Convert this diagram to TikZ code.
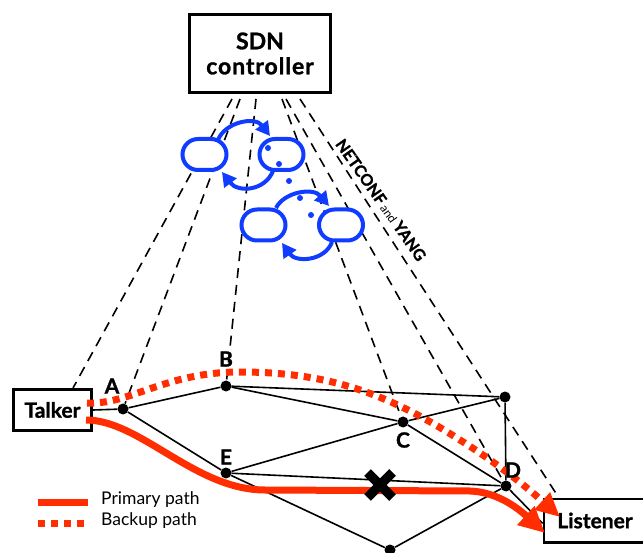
\documentclass[tikz,border=0pt]{standalone}
\usepackage{fontspec}
\setmainfont{Lato}[BoldFeatures={FakeBold=1.2}]
\usetikzlibrary{arrows.meta}
\definecolor{pathred}{RGB}{255,45,0}
\definecolor{iconblue}{RGB}{15,60,255}

\begin{document}
\begin{tikzpicture}[x=1pt,y=-1pt,
  box/.style={draw,line width=2.6pt,inner sep=0pt},
  sw/.style={circle,fill,inner sep=0pt,minimum size=11pt},
  lbl/.style={font=\bfseries\fontsize{21}{21}\selectfont,inner sep=0pt},
  link/.style={line width=1.6pt},
  ctrl/.style={line width=1.6pt,dash pattern=on 10pt off 7pt},
  primary/.style={pathred,line width=7pt},
  backup/.style={pathred,line width=7pt,dash pattern=on 7pt off 6pt},
  pill/.style={draw=iconblue,fill=white,line width=4pt,rounded corners=15.5pt,
    minimum width=44pt,minimum height=31pt,inner sep=0pt},
  flow/.style={iconblue,line width=4pt,-{Triangle[length=14pt,width=15pt]}},
  fdot/.style={circle,fill=iconblue,inner sep=0pt,minimum size=6pt},
  legendtext/.style={anchor=west,inner sep=0pt,font=\fontsize{17.5}{17.5}\selectfont}
]
\useasboundingbox (0,0) rectangle (643,553);

% boxes
\node[box,minimum width=141.5pt,minimum height=78.5pt,align=center,
  font=\bfseries\fontsize{23}{25}\selectfont] (sdn) at (260,53.5)
  {SDN\\\addfontfeature{LetterSpace=4}controller};
\node[box,minimum width=78.4pt,minimum height=41.4pt,
  font=\bfseries\fontsize{21}{21}\selectfont] (talker) at (52.5,410) {Talker};
\node[box,minimum width=102pt,minimum height=43.4pt,
  font=\bfseries\fontsize{21}{21}\selectfont] (listener) at (595,520.5) {Listener};

% switches
\node[sw] (A) at (123,409) {};
\node[sw] (B) at (226,386) {};
\node[sw] (C) at (403,422) {};
\node[sw] (D) at (506,486) {};
\node[sw] (R) at (505,397) {};
\node[sw] (E) at (226,473) {};
\node[sw] (F) at (390,550) {};

% control channels from the controller
\coordinate (c1) at (232,99);
\coordinate (c2) at (240,99);
\coordinate (c3) at (256,99);
\coordinate (c4) at (282,99);
\coordinate (c5) at (286,99);
\coordinate (c6) at (300,99);
\draw[ctrl] (c1) -- ([xshift=-20pt]talker.north east);
\draw[ctrl] (c2) -- (A);
\draw[ctrl] (c3) -- (B);
\draw[ctrl] (c4) -- (C);
\draw[ctrl] (c5) -- (D);
\draw[ctrl] (c6) -- ([xshift=16pt]listener.north west);

% configuration icons
\node[pill] (p1) at (204.5,154.5) {};
\node[pill] (p2) at (281.5,154.5) {};
\node[pill] (p3) at (263.5,225) {};
\node[pill] (p4) at (341,225) {};
\draw[flow] (218,140) .. controls (225,122) and (255,116) .. (270,136);
\draw[flow] (273,171) .. controls (265,191) and (238,193) .. (222,172);
\draw[flow] (276,208) .. controls (284,192) and (313,187) .. (329,206);
\draw[flow] (332,242) .. controls (325,261) and (296,263) .. (282,243);
\node[fdot] (d1) at (268,148) {};
\node[fdot] (d2) at (279,164) {};
\node[fdot] (d3) at (289,181) {};
\node[fdot] (d4) at (300,198) {};
\node[fdot] (d5) at (311,215) {};

\node[rotate=-55,inner sep=0pt] (proto) at (381,200)
  {\fontsize{16}{16}\selectfont\bfseries NETCONF\,{\fontsize{12}{12}\selectfont\mdseries and}\,YANG};

% network links
\draw[link] (talker.east) -- (A);
\draw[link] (A) -- (B);
\draw[link] (A) -- (E);
\draw[link] (B) -- (R);
\draw[link] (B) -- (C);
\draw[link] (E) -- (C);
\draw[link] (E) -- (D);
\draw[link] (E) -- (F);
\draw[link] (C) -- (R);
\draw[link] (C) -- (D);
\draw[link] (R) -- (D);
\draw[link] (D) -- (F);
\draw[link] (D) -- ([yshift=-3pt]listener.west);

% primary and backup paths
\coordinate (ps) at (86,420);
\coordinate (pe) at (545,533);
\coordinate (bs) at (87,403);
\coordinate (be) at (560,517);
\draw[primary,-{Triangle[length=26pt,width=24pt]}] (ps)
  .. controls (140,420) and (195,490) .. (265,490) -- (470,491)
  .. controls (500,492) and (522,512) .. (pe);
\draw[backup,-{Triangle[length=24pt,width=22pt]}] (bs)
  .. controls (130,405) and (165,372) .. (240,372)
  .. controls (330,372) and (390,395) .. (460,440)
  .. controls (500,465) and (530,490) .. (be);

% failed link
\coordinate (cut) at (380,485);
\draw[line width=9.5pt] ([shift={(-12.5,-12.5)}]cut) -- ([shift={(12.5,12.5)}]cut)
  ([shift={(-12.5,12.5)}]cut) -- ([shift={(12.5,-12.5)}]cut);

% switch labels
\node[lbl] (la) at (112,386) {A};
\node[lbl] (lb) at (226,359) {B};
\node[lbl] (lc) at (403,440) {C};
\node[lbl] (ld) at (513,470) {D};
\node[lbl] (le) at (226,457) {E};

% legend
\draw[primary] (38,502) -- (88,502);
\draw[backup] (38,523) -- (88,523);
\node[legendtext] (lp) at (101,500) {Primary path};
\node[legendtext] (lbk) at (101,521) {Backup path};
\end{tikzpicture}
\end{document}
